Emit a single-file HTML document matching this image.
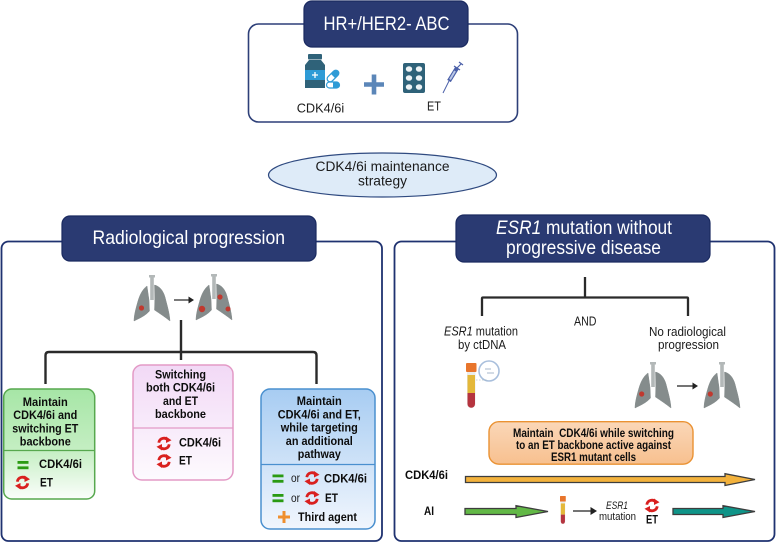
<!DOCTYPE html>
<html><head><meta charset="utf-8"><style>
html,body{margin:0;padding:0;background:#fff}
svg{display:block}
text{font-family:"Liberation Sans",sans-serif;fill:#1a1a1a}
.b{font-weight:bold;font-size:12px;fill:#0c0c0c}
.w{fill:#fff;font-size:19.5px}
.r{font-size:13px}
</style></head><body>
<svg width="776" height="543" viewBox="0 0 776 543" xmlns="http://www.w3.org/2000/svg">
<defs>
<linearGradient id="gg" x1="0" y1="0" x2="0" y2="1"><stop offset="0" stop-color="#a6e6a6"/><stop offset=".55" stop-color="#c4eec2"/><stop offset="1" stop-color="#fbfefb"/></linearGradient>
<linearGradient id="gp" x1="0" y1="0" x2="0" y2="1"><stop offset="0" stop-color="#f2d9f6"/><stop offset="1" stop-color="#fdfafe"/></linearGradient>
<linearGradient id="gb" x1="0" y1="0" x2="0" y2="1"><stop offset="0" stop-color="#a7ccf2"/><stop offset="1" stop-color="#f1f6fd"/></linearGradient>
<linearGradient id="go" x1="0" y1="0" x2="0" y2="1"><stop offset="0" stop-color="#fad7b8"/><stop offset="1" stop-color="#f7c08f"/></linearGradient>
<g id="lung">
<rect x="16.2" y="1" width="3.6" height="24" fill="#b3b8b8"/><rect x="15" y="0" width="6" height="2.5" fill="#b3b8b8"/>
<path d="M13,11 C9,14 6,19 4,26 C2,33 0,40 0,46 C6,43 11,41 15.5,36 L15,25 Z" fill="#858c8c" stroke="#858c8c" stroke-width=".5"/>
<path d="M20.5,10 C25,11 29,15 31,22 C33,30 35.5,38 36,46 C31,42 25,38 20.5,35 L20.8,25 Z" fill="#858c8c" stroke="#858c8c" stroke-width=".5"/>
</g>
<g id="ref" fill="none" stroke="#d9201f" stroke-width="2.8">
<path d="M-5.2,-0.8 A5.2,5.2 0 0 1 3.8,-3.6"/><path d="M5.2,0.8 A5.2,5.2 0 0 1 -3.8,3.6"/>
<path d="M2,-7 L7.5,-3.2 L2,-0.5 Z" fill="#d9201f" stroke="none"/><path d="M-2,7 L-7.5,3.2 L-2,0.5 Z" fill="#d9201f" stroke="none"/>
</g>
<g id="eq" fill="#2a9a12"><rect x="-5.5" y="-4" width="11" height="2.8"/><rect x="-5.5" y="1.4" width="11" height="2.8"/></g>
<g id="tube"><rect x="0" y="0" width="10.5" height="9" rx="1" fill="#e8752c"/><path d="M1,9 H9.5 V41 A4.2,4.2 0 0 1 1,41 Z" fill="#e9ecec"/><rect x="1.5" y="12" width="7.5" height="18" fill="#e4b83a"/><path d="M1.5,30 H9 V41 A3.7,3.7 0 0 1 1.5,41 Z" fill="#b5343f"/></g>
</defs>

<!-- Top box -->
<rect x="248.5" y="24" width="269" height="98" rx="10" fill="#fff" stroke="#2d3f78" stroke-width="1.6"/>
<rect x="304" y="1" width="164" height="46" rx="8" fill="#2a3a72" stroke="#1a2a60" stroke-width="1.2"/>
<text class="w" x="323.5" y="30" textLength="126" lengthAdjust="spacingAndGlyphs">HR+/HER2- ABC</text>
<!-- bottle -->
<rect x="308" y="54" width="14" height="5.5" rx="1" fill="#2f6279"/>
<path d="M309,60 H321 L325,65 V88 H305 V65 Z" fill="#2f6279"/>
<rect x="305" y="70" width="20" height="10" fill="#2e9bd6"/>
<path d="M315,72 V78 M312,75 H318" stroke="#fff" stroke-width="1.3"/>
<g transform="rotate(-45 333 76)"><rect x="326" y="73" width="14" height="6" rx="3" fill="#fff" stroke="#2e9bd6" stroke-width="1.2"/><path d="M333,73 H337 A3,3 0 0 1 337,79 H333 Z" fill="#2e9bd6"/></g>
<rect x="326.5" y="82" width="13" height="6" rx="3" fill="#fff" stroke="#2e9bd6" stroke-width="1.2"/><path d="M333,82 H336.5 A3,3 0 0 1 336.5,88 H333 Z" fill="#2e9bd6"/>
<!-- plus -->
<path d="M364,84.5 H384 M374,74.5 V94.5" stroke="#5b86b8" stroke-width="4.6" fill="none"/>
<!-- blister -->
<rect x="403" y="63" width="22" height="30" rx="2" fill="#2f6279"/>
<g fill="#eef3f5"><ellipse cx="409" cy="69" rx="3.2" ry="2.8"/><ellipse cx="419" cy="69" rx="3.2" ry="2.8"/><ellipse cx="409" cy="78" rx="3.2" ry="2.8"/><ellipse cx="419" cy="78" rx="3.2" ry="2.8"/><ellipse cx="409" cy="87" rx="3.2" ry="2.8"/><ellipse cx="419" cy="87" rx="3.2" ry="2.8"/></g>
<!-- syringe -->
<path d="M443,93 L449,81" stroke="#4a5fa8" stroke-width="1"/>
<path d="M449,81 L457,68" stroke="#4a5fa8" stroke-width="4.2"/><path d="M450,79.5 L455,71" stroke="#b9c7e6" stroke-width="2"/>
<path d="M454,66 L460,70 M457,68 L461,64 M459,62 L463,65" stroke="#4a5fa8" stroke-width="1.2" fill="none"/>
<text class="r" x="296.7" y="112.5" textLength="47.5" lengthAdjust="spacingAndGlyphs">CDK4/6i</text>
<text class="r" x="427" y="110.5" textLength="14" lengthAdjust="spacingAndGlyphs">ET</text>

<!-- Ellipse -->
<ellipse cx="382.5" cy="175" rx="114" ry="22" fill="#deebf8" stroke="#2f4a80" stroke-width="1.2"/>
<text x="315.5" y="171" font-size="14" textLength="134" lengthAdjust="spacingAndGlyphs">CDK4/6i maintenance</text>
<text x="358" y="185.5" font-size="14" textLength="49" lengthAdjust="spacingAndGlyphs">strategy</text>

<!-- Left panel -->
<rect x="1.5" y="241.5" width="380.5" height="299.5" rx="7" fill="#fff" stroke="#1f3270" stroke-width="1.8"/>
<rect x="62" y="216" width="254" height="45" rx="8" fill="#2a3a72" stroke="#1a2a60" stroke-width="1.2"/>
<text class="w" x="92.5" y="244" textLength="192.5" lengthAdjust="spacingAndGlyphs">Radiological progression</text>
<use href="#lung" x="134" y="275"/>
<circle cx="141.5" cy="308" r="2.6" fill="#c0392f"/>
<path d="M174,300 H190" stroke="#222" stroke-width="1.2"/><path d="M188.5,296.5 L194,300 L188.5,303.5 Z" fill="#222"/>
<use href="#lung" x="196" y="274"/>
<circle cx="220" cy="297" r="2.6" fill="#c0392f"/><circle cx="202" cy="309" r="3.2" fill="#c0392f"/><circle cx="228" cy="309" r="2.5" fill="#c0392f"/>
<path d="M181,320 V360" stroke="#2a2a2a" stroke-width="2.4" fill="none"/>
<path d="M45.5,384 V355.5 Q45.5,352 49,352 H313 Q316.5,352 316.5,355.5 V384" stroke="#2a2a2a" stroke-width="2.4" fill="none"/>

<!-- Green -->
<rect x="3.7" y="389" width="91" height="110" rx="8" fill="url(#gg)" stroke="#57a84e" stroke-width="1.5"/>
<path d="M4,450.5 H94.5" stroke="#57a84e" stroke-width="1.2"/>
<text class="b" x="45.3" y="406" text-anchor="middle" textLength="45" lengthAdjust="spacingAndGlyphs">Maintain</text>
<text class="b" x="45.3" y="419" text-anchor="middle" textLength="64" lengthAdjust="spacingAndGlyphs">CDK4/6i and</text>
<text class="b" x="45.3" y="432.5" text-anchor="middle" textLength="66" lengthAdjust="spacingAndGlyphs">switching ET</text>
<text class="b" x="45.3" y="445.5" text-anchor="middle" textLength="51" lengthAdjust="spacingAndGlyphs">backbone</text>
<use href="#eq" x="23" y="465"/><use href="#ref" x="22.5" y="482.5"/>
<text class="b" x="39" y="468" textLength="43" lengthAdjust="spacingAndGlyphs">CDK4/6i</text>
<text class="b" x="40" y="486.5" textLength="13" lengthAdjust="spacingAndGlyphs">ET</text>

<!-- Pink -->
<rect x="133" y="365" width="100" height="115" rx="9" fill="url(#gp)" stroke="#e39ac6" stroke-width="1.5"/>
<path d="M133.5,428 H233" stroke="#e39ac6" stroke-width="1.2"/>
<text class="b" x="180.5" y="378.5" text-anchor="middle" textLength="51" lengthAdjust="spacingAndGlyphs">Switching</text>
<text class="b" x="180.5" y="391.5" text-anchor="middle" textLength="69" lengthAdjust="spacingAndGlyphs">both CDK4/6i</text>
<text class="b" x="180.5" y="405" text-anchor="middle" textLength="35" lengthAdjust="spacingAndGlyphs">and ET</text>
<text class="b" x="180.5" y="418" text-anchor="middle" textLength="51" lengthAdjust="spacingAndGlyphs">backbone</text>
<use href="#ref" x="164" y="443.5"/><use href="#ref" x="164" y="461"/>
<text class="b" x="179" y="446.5" textLength="42" lengthAdjust="spacingAndGlyphs">CDK4/6i</text>
<text class="b" x="179" y="464.5" textLength="13" lengthAdjust="spacingAndGlyphs">ET</text>

<!-- Blue -->
<rect x="261" y="389" width="114" height="140" rx="9" fill="url(#gb)" stroke="#4a90cf" stroke-width="1.5"/>
<path d="M261.5,464.5 H374.5" stroke="#4a90cf" stroke-width="1.2"/>
<text class="b" x="319.3" y="405" text-anchor="middle" textLength="45" lengthAdjust="spacingAndGlyphs">Maintain</text>
<text class="b" x="319.3" y="418.5" text-anchor="middle" textLength="83" lengthAdjust="spacingAndGlyphs">CDK4/6i and ET,</text>
<text class="b" x="319.3" y="431.5" text-anchor="middle" textLength="77" lengthAdjust="spacingAndGlyphs">while targeting</text>
<text class="b" x="319.3" y="445" text-anchor="middle" textLength="67" lengthAdjust="spacingAndGlyphs">an additional</text>
<text class="b" x="319.3" y="458" text-anchor="middle" textLength="43" lengthAdjust="spacingAndGlyphs">pathway</text>
<use href="#eq" x="278" y="478.5"/><use href="#ref" x="312" y="478"/>
<text x="291" y="482" font-size="11.5" textLength="9" lengthAdjust="spacingAndGlyphs">or</text>
<text class="b" x="324" y="482.5" textLength="43" lengthAdjust="spacingAndGlyphs">CDK4/6i</text>
<use href="#eq" x="278" y="498"/><use href="#ref" x="312" y="498"/>
<text x="291" y="502" font-size="11.5" textLength="9" lengthAdjust="spacingAndGlyphs">or</text>
<text class="b" x="325" y="502" textLength="13" lengthAdjust="spacingAndGlyphs">ET</text>
<path d="M278,517 H290 M284,511 V523" stroke="#ef8f2e" stroke-width="3" fill="none"/>
<text class="b" x="298" y="521" textLength="59" lengthAdjust="spacingAndGlyphs">Third agent</text>

<!-- Right panel -->
<rect x="394.5" y="241.5" width="380" height="299.5" rx="7" fill="#fff" stroke="#1f3270" stroke-width="1.8"/>
<rect x="456" y="215" width="254" height="47" rx="8" fill="#2a3a72" stroke="#1a2a60" stroke-width="1.2"/>
<text class="w" x="496" y="234" textLength="176" lengthAdjust="spacingAndGlyphs"><tspan font-style="italic" fill="#fff">ESR1</tspan> mutation without</text>
<text class="w" x="506" y="254" textLength="155" lengthAdjust="spacingAndGlyphs">progressive disease</text>
<path d="M585,277 V297.5 M482,316 V298.5 Q482,297.5 483,297.5 H687 Q688,297.5 688,298.5 V316" stroke="#2a2a2a" stroke-width="2.3" fill="none"/>
<text class="r" x="574" y="325.7" textLength="22.5" lengthAdjust="spacingAndGlyphs">AND</text>
<text class="r" x="444" y="335.7" textLength="74" lengthAdjust="spacingAndGlyphs"><tspan font-style="italic">ESR1</tspan> mutation</text>
<text class="r" x="458" y="349" textLength="48" lengthAdjust="spacingAndGlyphs">by ctDNA</text>
<text class="r" x="649" y="336" textLength="77" lengthAdjust="spacingAndGlyphs">No radiological</text>
<text class="r" x="658" y="349" textLength="61" lengthAdjust="spacingAndGlyphs">progression</text>
<use href="#tube" x="466" y="363"/>
<circle cx="489" cy="371" r="10" fill="#fff" stroke="#a9bfdc" stroke-width="1.6"/>
<path d="M485,369 H491 M487,373 H494" stroke="#8aa0ba" stroke-width="0.8"/>
<path d="M476,380 H488" stroke="#9aa" stroke-width="0.6" stroke-dasharray="1.5 1.5"/>
<use href="#lung" x="635" y="362"/>
<circle cx="641.7" cy="394" r="2.6" fill="#c0392f"/>
<path d="M677,386 H694" stroke="#222" stroke-width="1.2"/><path d="M692.5,382.5 L698,386 L692.5,389.5 Z" fill="#222"/>
<use href="#lung" x="704" y="362"/>
<circle cx="710.3" cy="394" r="2.6" fill="#c0392f"/>

<!-- Orange box -->
<rect x="489" y="421.7" width="204" height="42.5" rx="10" fill="url(#go)" stroke="#ea9233" stroke-width="1.4"/>
<text class="b" x="513" y="437" textLength="161" lengthAdjust="spacingAndGlyphs" xml:space="preserve">Maintain  CDK4/6i while switching</text>
<text class="b" x="516" y="449" textLength="155" lengthAdjust="spacingAndGlyphs">to an ET backbone active against</text>
<text class="b" x="551" y="461" textLength="85" lengthAdjust="spacingAndGlyphs">ESR1 mutant cells</text>

<!-- Arrows -->
<text class="b" x="405" y="479" textLength="43" lengthAdjust="spacingAndGlyphs">CDK4/6i</text>
<path d="M465.5,476.5 H725 V473.7 L755,479.5 L725,485.5 V482.5 H465.5 Z" fill="#f3b23c" stroke="#3d3d3d" stroke-width="1.3"/>
<text class="b" x="424" y="515" textLength="10" lengthAdjust="spacingAndGlyphs">AI</text>
<path d="M465,508.5 H516 V505.7 L548,511.5 L516,517.5 V514.5 H465 Z" fill="#62b846" stroke="#3d3d3d" stroke-width="1.3"/>
<g transform="translate(560,496) scale(.55,.62)"><use href="#tube"/></g>
<path d="M573,511 H592" stroke="#222" stroke-width="1.2"/><path d="M590.5,507 L597,511 L590.5,515 Z" fill="#222"/>
<text x="606" y="509" font-size="11" font-style="italic" textLength="22" lengthAdjust="spacingAndGlyphs">ESR1</text>
<text x="599" y="520" font-size="11" textLength="37" lengthAdjust="spacingAndGlyphs">mutation</text>
<use href="#ref" x="652" y="505.5"/>
<text class="b" x="646" y="523.5" font-size="12" textLength="12" lengthAdjust="spacingAndGlyphs">ET</text>
<path d="M673,508.5 H723 V505.7 L755,511.5 L723,517.5 V514.5 H673 Z" fill="#0f9488" stroke="#3d3d3d" stroke-width="1.3"/>
</svg>
</body></html>
